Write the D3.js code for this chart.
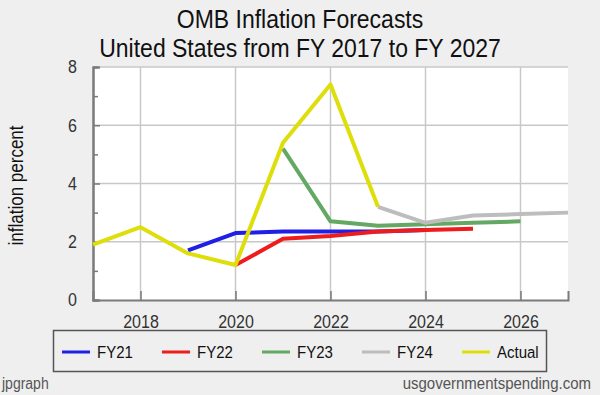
<!DOCTYPE html>
<html>
<head>
<meta charset="utf-8">
<script src="https://cdn.jsdelivr.net/npm/d3@7"></script>
<style>
  html, body { margin: 0; padding: 0; background: #efefef; }
  svg { display: block; font-family: "Liberation Sans", Arial, sans-serif; }
</style>
</head>
<body>
<svg id="chart" width="600" height="395"></svg>
<script>
// ---- data ----
const titleLines = ["OMB Inflation Forecasts", "United States from FY 2017 to FY 2027"];
const yAxisLabel = "inflation percent";
const xTicks = [2018, 2020, 2022, 2024, 2026];
const yTicks = [0, 2, 4, 6, 8];
const yMinorTicks = [1, 3, 5, 7];

const fy21Years = [2019, 2020, 2021, 2022, 2023, 2024];
const fy21Values = [1.7, 2.3, 2.35, 2.35, 2.35, 2.4];
const fy22Years = [2020, 2021, 2022, 2023, 2024, 2025];
const fy22Values = [1.2, 2.1, 2.2, 2.35, 2.4, 2.45];
const fy23Years = [2021, 2022, 2023, 2024, 2025, 2026];
const fy23Values = [5.2, 2.7, 2.55, 2.6, 2.65, 2.7];
const fy24Years = [2023, 2024, 2025, 2026, 2027];
const fy24Values = [3.2, 2.65, 2.9, 2.95, 3.0];
const actualYears = [2017, 2018, 2019, 2020, 2021, 2022, 2023];
const actualValues = [1.9, 2.5, 1.6, 1.2, 5.4, 7.4, 3.2];

const seriesNames = ["FY21", "FY22", "FY23", "FY24", "Actual"];
const seriesColors = ["#1f1fe6", "#ee1c1c", "#63a863", "#bdbdbd", "#dede0a"];

const series = [
  { name: seriesNames[0], color: seriesColors[0], years: fy21Years, values: fy21Values },
  { name: seriesNames[1], color: seriesColors[1], years: fy22Years, values: fy22Values },
  { name: seriesNames[2], color: seriesColors[2], years: fy23Years, values: fy23Values },
  { name: seriesNames[3], color: seriesColors[3], years: fy24Years, values: fy24Values },
  { name: seriesNames[4], color: seriesColors[4], years: actualYears, values: actualValues }
];

// ---- layout ----
const svg = d3.select("#chart");
const plot = { left: 93, right: 568, top: 67, bottom: 300 };
const STRETCH = 1.16; // reference text is drawn a bit taller than wide

const x = d3.scaleLinear().domain([2017, 2027]).range([plot.left, plot.right]);
const y = d3.scaleLinear().domain([0, 8]).range([plot.bottom, plot.top]);

// place a text at (px,py) with vertical stretch
function stretchedText(parent, px, py, str, opts) {
  const st = opts.stretch || STRETCH;
  const g = parent.append("g").attr("transform", `translate(${px},${py}) ${opts.rotate ? "rotate(" + opts.rotate + ")" : ""} scale(1,${st})`);
  return g.append("text")
    .attr("x", 0).attr("y", 0)
    .attr("text-anchor", opts.anchor || "start")
    .attr("font-size", opts.size).attr("fill", opts.fill || "#111")
    .text(str);
}

// background
svg.append("rect").attr("width", 600).attr("height", 395).attr("fill", "#efefef");
svg.append("rect")
  .attr("x", plot.left).attr("y", plot.top)
  .attr("width", plot.right - plot.left).attr("height", plot.bottom - plot.top)
  .attr("fill", "#ffffff");

// title
titleLines.forEach((t, i) => stretchedText(svg, 300, 27.5 + i * 29, t, { anchor: "middle", size: 23, fill: "#111", stretch: 1.1 }));

// gridlines
const grid = svg.append("g");
grid.selectAll("line.h").data(yTicks.filter(t => t > 0)).join("line")
  .attr("x1", plot.left).attr("x2", plot.right)
  .attr("y1", d => y(d)).attr("y2", d => y(d))
  .attr("stroke", "#c8c8c8").attr("stroke-width", 1.5);
grid.selectAll("line.v").data(xTicks).join("line")
  .attr("x1", d => x(d)).attr("x2", d => x(d))
  .attr("y1", plot.top).attr("y2", plot.bottom)
  .attr("stroke", "#c8c8c8").attr("stroke-width", 1.5);

// axes with d3
const yAxis = d3.axisLeft(y).tickValues(yTicks).tickSize(-7).tickPadding(16).tickFormat(d3.format("d"));
const yAxisMinor = d3.axisLeft(y).tickValues(yMinorTicks).tickSize(-5).tickFormat("");
const xAxis = d3.axisBottom(x).tickValues(xTicks).tickSize(-9).tickPadding(13).tickFormat(d3.format("d"));

function styleAxis(g) {
  g.select(".domain").attr("stroke", "#7a7a7a").attr("stroke-width", 2);
  g.selectAll(".tick line").attr("stroke", "#7a7a7a").attr("stroke-width", 1.5);
  g.selectAll(".tick text").attr("fill", "#333").attr("font-size", 16)
    .attr("font-family", "\"Liberation Sans\", Arial, sans-serif")
    .attr("transform", `scale(1,${STRETCH})`);
}

svg.append("g").attr("transform", `translate(${plot.left},0)`).call(yAxisMinor).call(styleAxis);
svg.append("g").attr("transform", `translate(${plot.left},0)`).call(yAxis).call(styleAxis);
svg.append("g").attr("transform", `translate(0,${plot.bottom})`).call(xAxis).call(styleAxis);

// y axis label (rotated, stretched along glyph height)
stretchedText(svg, 23, (plot.top + plot.bottom) / 2 + 2, yAxisLabel, { anchor: "middle", size: 17, rotate: -90 });

// lines
const line = d3.line().x(d => x(d[0])).y(d => y(d[1]));
svg.append("g").selectAll("path").data(series).join("path")
  .attr("d", s => line(s.years.map((yr, i) => [yr, s.values[i]])))
  .attr("fill", "none")
  .attr("stroke", s => s.color)
  .attr("stroke-width", 4)
  .attr("stroke-linejoin", "round");

// legend
const legend = svg.append("g");
legend.append("rect")
  .attr("x", 53.5).attr("y", 330.5).attr("width", 493).attr("height", 41)
  .attr("fill", "#efefef").attr("stroke", "#555").attr("stroke-width", 1.5);
series.forEach((s, i) => {
  const ox = 62 + i * 100;
  legend.append("line")
    .attr("x1", ox).attr("x2", ox + 28).attr("y1", 352).attr("y2", 352)
    .attr("stroke", s.color).attr("stroke-width", 3);
  stretchedText(legend, ox + 35, 357.5, s.name, { size: 15, fill: "#111" });
});

// footer
stretchedText(svg, 2, 389, "jpgraph", { size: 14, fill: "#555" });
stretchedText(svg, 591, 389, "usgovernmentspending.com", { anchor: "end", size: 15, fill: "#555" });
</script>
</body>
</html>
